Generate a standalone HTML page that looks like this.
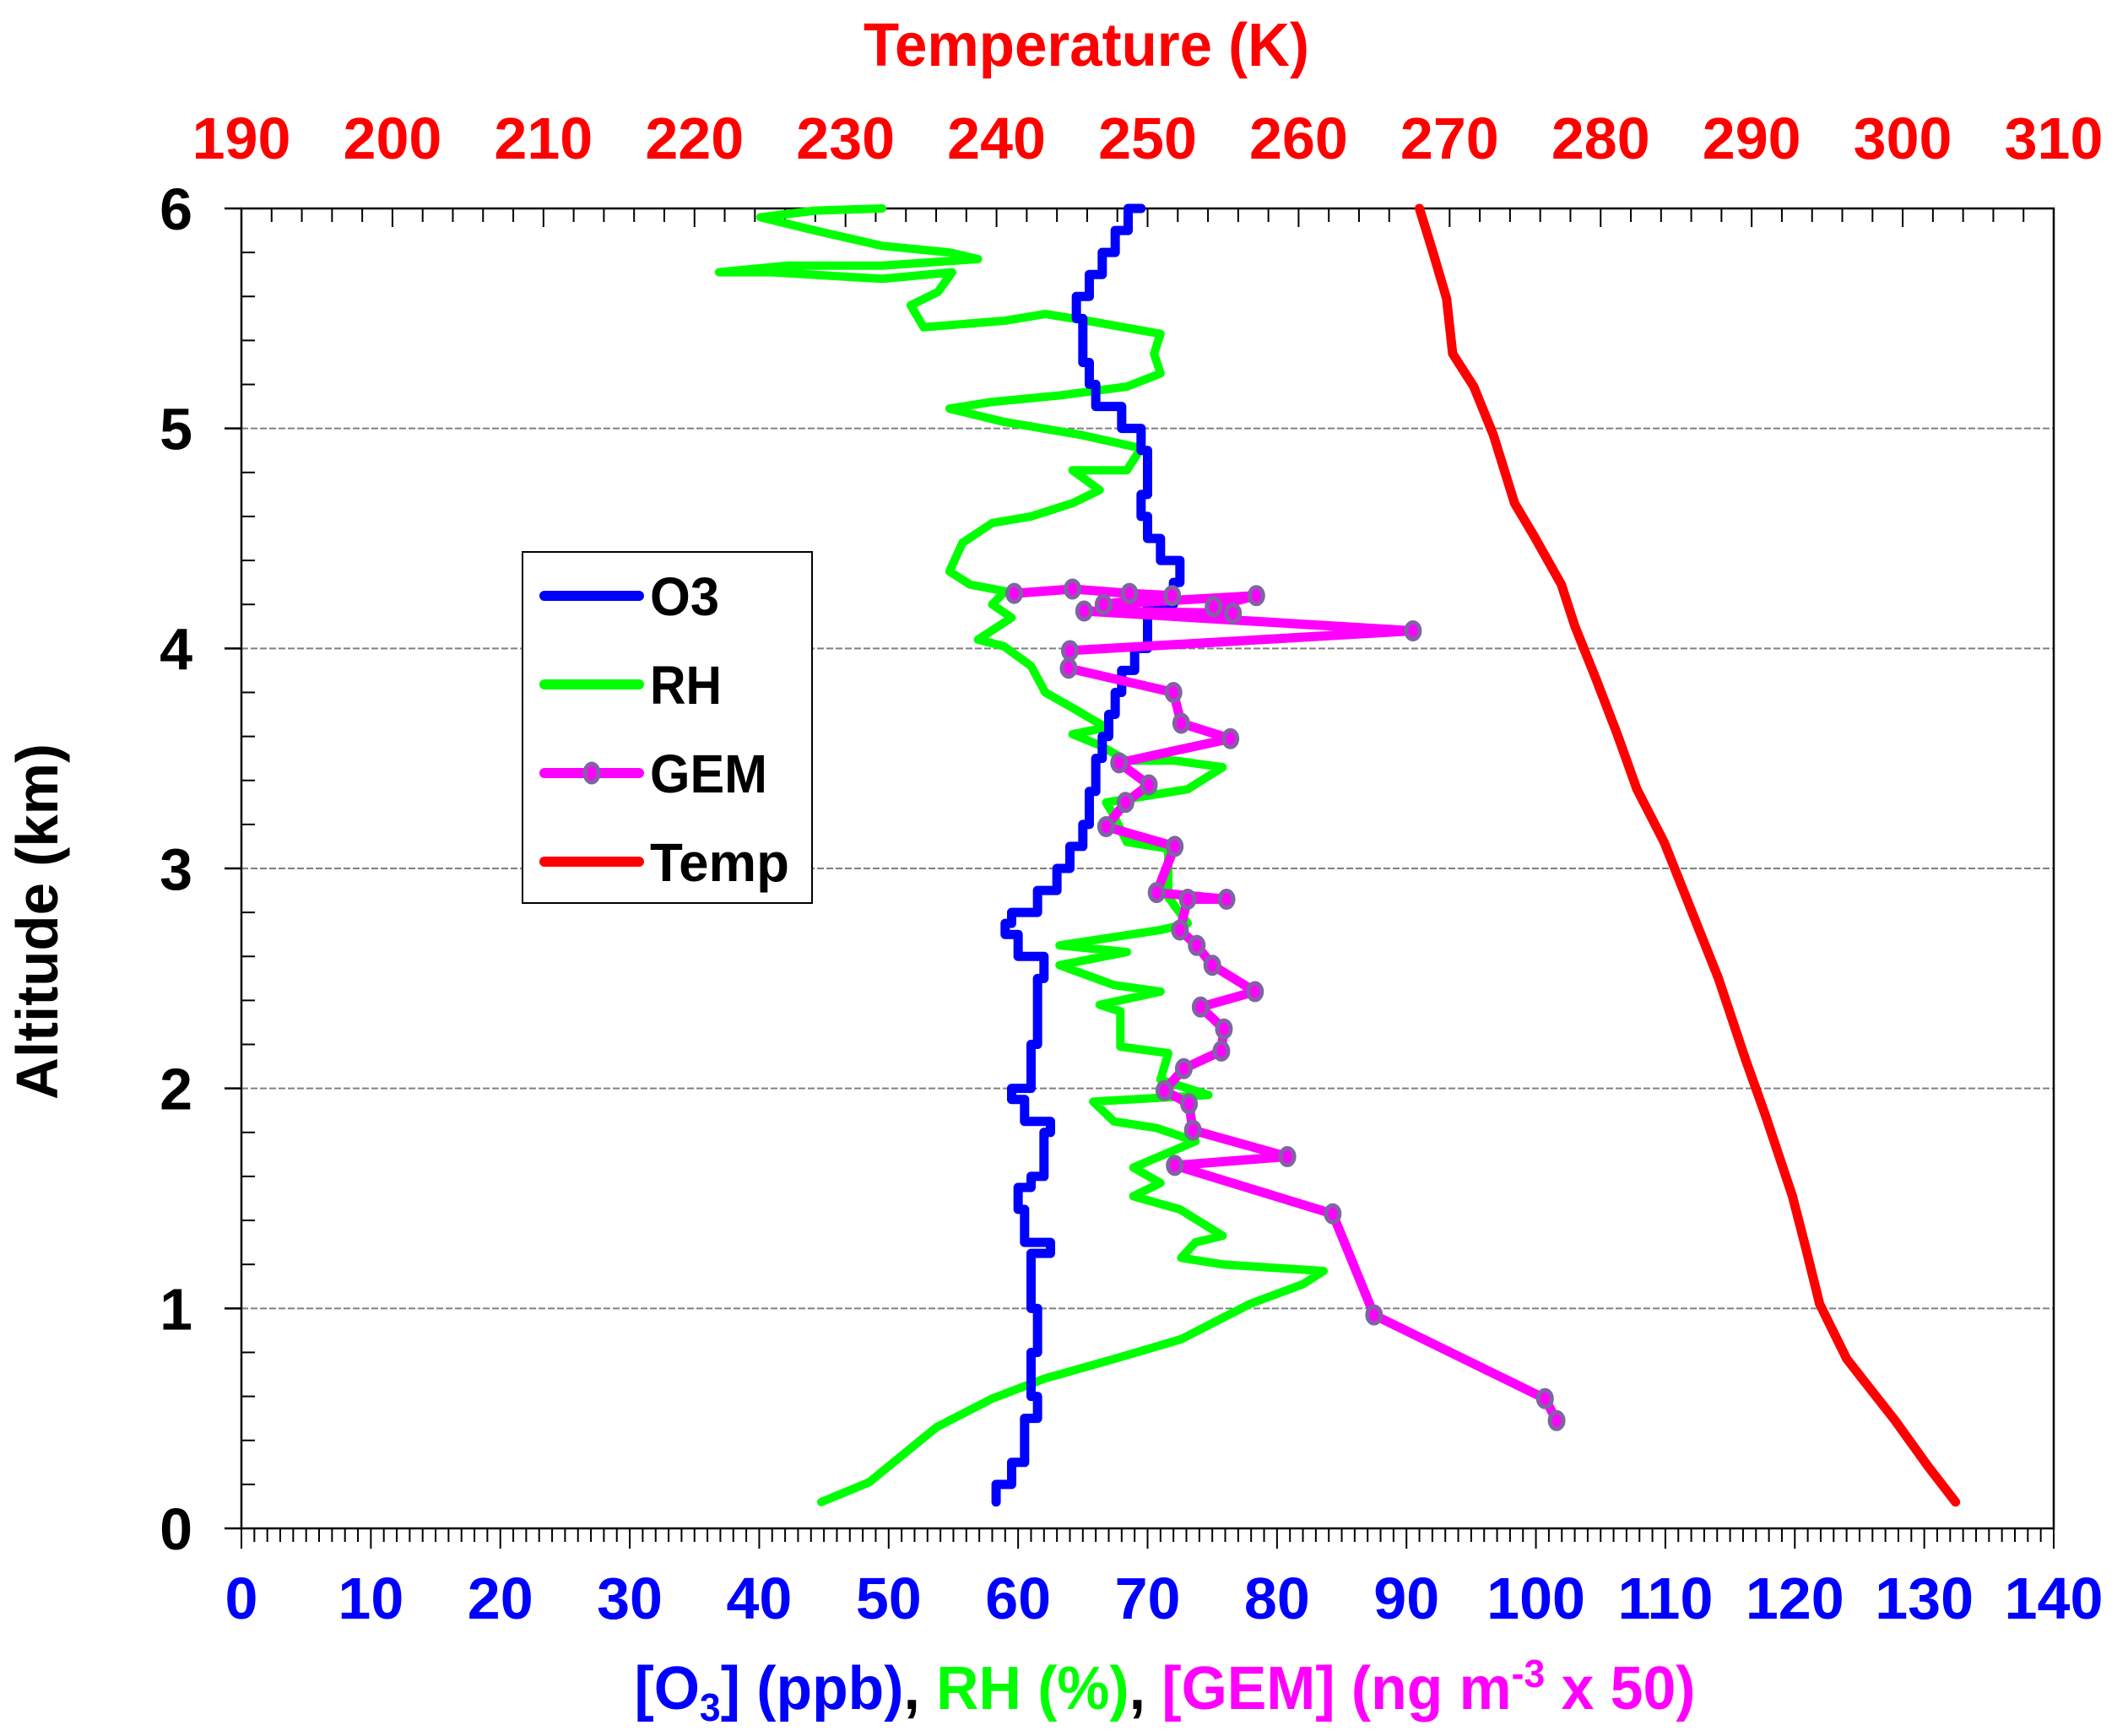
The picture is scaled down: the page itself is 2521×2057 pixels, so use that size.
<!DOCTYPE html>
<html><head><meta charset="utf-8"><style>
html,body{margin:0;padding:0;background:#fff}
svg{display:block;font-family:"Liberation Sans",Arial,sans-serif;font-weight:bold}
</style></head><body>
<svg id="chart" width="2521" height="2057" viewBox="0 0 2521 2057" xmlns="http://www.w3.org/2000/svg">
<g id="grid"></g>
<g id="axes"></g>
<g id="series"></g>
<text x="1287" y="78" text-anchor="middle" font-size="72" fill="#ff0000" textLength="528" lengthAdjust="spacingAndGlyphs">Temperature (K)</text>
<text x="1380" y="2025" text-anchor="middle" font-size="72" textLength="1257" lengthAdjust="spacingAndGlyphs"><tspan fill="#0000ff">[O</tspan><tspan fill="#0000ff" font-size="46" dy="14">3</tspan><tspan fill="#0000ff" dy="-14">] (ppb)</tspan><tspan fill="#000">, </tspan><tspan fill="#00ff00">RH (%)</tspan><tspan fill="#000">, </tspan><tspan fill="#ff00ff">[GEM] (ng m</tspan><tspan fill="#ff00ff" font-size="46" dy="-26">-3</tspan><tspan fill="#ff00ff" dy="26"> x 50)</tspan></text>
<text transform="translate(68,1092) rotate(-90)" text-anchor="middle" font-size="70" fill="#000" textLength="422" lengthAdjust="spacingAndGlyphs">Altitude (km)</text>
<g>
<rect x="619" y="654" width="343" height="416" fill="#fff" stroke="#000" stroke-width="2"/>
<g><line x1="645" y1="706" x2="757" y2="706" stroke="#0000ff" stroke-width="12" stroke-linecap="round"/><text x="770" y="729" font-size="64" textLength="82" lengthAdjust="spacingAndGlyphs">O3</text></g>
<g><line x1="645" y1="811" x2="757" y2="811" stroke="#00ff00" stroke-width="12" stroke-linecap="round"/><text x="770" y="834" font-size="64" textLength="85" lengthAdjust="spacingAndGlyphs">RH</text></g>
<g><line x1="645" y1="916" x2="757" y2="916" stroke="#ff00ff" stroke-width="12" stroke-linecap="round"/><ellipse cx="701" cy="916" rx="8" ry="11" fill="#ff00ff" stroke="#8064a2" stroke-width="5"/><text x="770" y="939" font-size="64" textLength="139" lengthAdjust="spacingAndGlyphs">GEM</text></g>
<g><line x1="645" y1="1021" x2="757" y2="1021" stroke="#ff0000" stroke-width="12" stroke-linecap="round"/><text x="770" y="1044" font-size="64" textLength="165" lengthAdjust="spacingAndGlyphs">Temp</text></g>
</g>
</svg>
<script>
const o3Alt=[0.12,0.2,0.3,0.5,0.6,0.8,1.0,1.2,1.25,1.3,1.45,1.55,1.6,1.8,1.85,1.95,2.0,2.2,2.5,2.6,2.7,2.75,2.8,2.9,3.0,3.1,3.2,3.35,3.5,3.6,3.7,3.8,3.9,4.0,4.1,4.2,4.3,4.4,4.5,4.6,4.7,4.8,4.9,5.0,5.1,5.2,5.3,5.4,5.5,5.6,5.7,5.8,5.9,6.0];
const o3Val=[58.3,59.5,60.5,61.5,61,61.5,61,61,62.5,60.5,60,61,62,62.5,60.5,59.5,61,61.5,62,60,59,59.5,61.5,63,64,65,65.5,66,66.5,67,67.5,68,69,70,70,72,72.5,71,70,69.5,70,70,69.5,68,66,65.5,65,65,64.5,65.5,66.5,67.5,68.5,69.5];
const rhAlt=[0.12,0.21,0.46,0.59,0.68,0.77,0.86,1.02,1.11,1.17,1.2,1.23,1.3,1.33,1.45,1.51,1.57,1.64,1.76,1.82,1.85,1.94,1.97,2.04,2.16,2.19,2.35,2.38,2.44,2.47,2.56,2.62,2.65,2.72,2.75,2.87,3.09,3.12,3.24,3.3,3.36,3.46,3.49,3.49,3.56,3.61,3.64,3.73,3.8,3.92,4.01,4.04,4.14,4.2,4.26,4.29,4.35,4.48,4.57,4.6,4.66,4.72,4.81,4.81,4.91,4.97,5.03,5.09,5.12,5.15,5.19,5.25,5.34,5.43,5.49,5.52,5.49,5.46,5.56,5.62,5.71,5.68,5.71,5.71,5.74,5.74,5.77,5.8,5.83,5.9,5.96,5.99,6.0];
const rhVal=[44.8,48.5,53.7,58,62,67.4,72.6,77.9,82,83.6,75.8,72.6,73.7,75.8,72.5,68.9,71,68.9,73.7,70.7,67.4,65.8,74.7,71,71.6,67.9,67.9,66.3,71,67.4,63.2,68.4,63.2,71,73.1,71.6,71.6,68.4,67.4,66.8,73.1,75.8,72.1,68.4,66.3,64.2,66.8,64.2,62.1,61,58.9,56.9,59.5,58,59,56.3,54.7,55.7,58,61,64.2,66.3,64.2,68.4,69.5,64.9,58.9,54.7,57.9,63.2,68.4,71,70.5,71,65.3,62.1,59,52.7,51.7,53.8,54.9,49.5,41,36.9,42.2,49.5,56.9,54.7,49.5,44.3,40.1,44.3,49.5];
const gemAlt=[0.49,0.59,0.97,1.43,1.65,1.69,1.81,1.93,1.99,2.09,2.17,2.27,2.37,2.44,2.56,2.65,2.72,2.86,2.86,2.89,3.1,3.19,3.3,3.38,3.48,3.59,3.66,3.8,3.91,3.99,4.08,4.17,4.16,4.19,4.24,4.2,4.24,4.25,4.27,4.25];
const gemVal=[101.6,100.7,87.5,84.3,72.1,80.8,73.5,73.2,71.3,72.8,75.7,75.9,74.1,78.3,75,73.8,72.5,73.1,76.1,70.7,72.1,66.8,68.3,70.1,67.8,76.4,72.6,72,63.9,64,90.5,65.1,76.6,75.1,78.4,66.6,71.9,68.6,64.2,59.7];
const tAlt=[0.12,0.28,0.49,0.77,1.02,1.27,1.51,1.88,2.13,2.5,2.81,3.12,3.36,3.61,3.86,4.1,4.29,4.51,4.66,4.97,5.19,5.34,5.59,5.8,6.0];
const tVal=[303.5,301.7,299.5,296.3,294.5,293.6,292.7,290.9,289.6,287.8,286,284.2,282.4,281.1,279.7,278.3,277.4,275.6,274.3,272.9,271.6,270.2,269.8,268.9,268];
const bottomTicks=[0,10,20,30,40,50,60,70,80,90,100,110,120,130,140];
const topTicks=[190,200,210,220,230,240,250,260,270,280,290,300,310];
const yTicks=[0,1,2,3,4,5,6];

const L=286,R=2433,T=247,B=1811;
const NS="http://www.w3.org/2000/svg";
const xB=v=>L+(v-0)/140*(R-L);
const xT=v=>L+(v-190)/120*(R-L);
const yA=a=>B-a/6*(B-T);
function mk(tag,attrs,parent){const e=document.createElementNS(NS,tag);for(const k in attrs)e.setAttribute(k,attrs[k]);parent.appendChild(e);return e;}
const grid=document.getElementById('grid'),axes=document.getElementById('axes'),series=document.getElementById('series');
yTicks.forEach(a=>{if(a>0&&a<6){const g=mk('line',{x1:L,x2:R,y1:yA(a),y2:yA(a),stroke:'#808080','stroke-width':2,'stroke-dasharray':'8,3'},grid);

}});
const frame=mk('rect',{x:L,y:T,width:R-L,height:B-T,fill:'none',stroke:'#000','stroke-width':2.5},axes);


for(let v=0;v<=140;v++){const major=v%10===0;mk('line',{x1:xB(v),x2:xB(v),y1:B,y2:B+(major?24:16),stroke:'#000','stroke-width':2},axes);}
for(let v=190;v<=310;v+=2){const major=v%10===0;mk('line',{x1:xT(v),x2:xT(v),y1:T,y2:T+(major?22:16),stroke:'#000','stroke-width':2},axes);}
for(let i=0;i<=30;i++){const a=i*0.2;const major=i%5===0;if(major)mk('line',{x1:L-20,x2:L,y1:yA(a),y2:yA(a),stroke:'#000','stroke-width':2.5},axes);else mk('line',{x1:L,x2:L+16,y1:yA(a),y2:yA(a),stroke:'#000','stroke-width':2},axes);}
bottomTicks.forEach(v=>{const t=mk('text',{x:xB(v),y:1918,'text-anchor':'middle','font-size':70,fill:'#0000ff'},axes);t.textContent=v;

});
topTicks.forEach(v=>{const t=mk('text',{x:xT(v),y:188,'text-anchor':'middle','font-size':70,fill:'#ff0000'},axes);t.textContent=v;

});
yTicks.forEach(a=>{const t=mk('text',{x:228,y:yA(a)+25,'text-anchor':'end','font-size':70,fill:'#000'},axes);t.textContent=a;

});
function poly(vals,alts,xf,color,name,step,w){let d='';for(let i=0;i<vals.length;i++){const x=xf(vals[i]),y=yA(alts[i]);if(i===0)d='M'+x+','+y;else if(step){d+=' V'+y+' H'+x;}else d+=' L'+x+','+y;}
const p=mk('path',{d:d,fill:'none',stroke:color,'stroke-width':w,'stroke-linejoin':'round','stroke-linecap':'round'},series);

}
poly(rhVal,rhAlt,xB,'#00ff00','rh-line',false,10);
poly(o3Val,o3Alt,xB,'#0000ff','o3-line',true,11);
poly(tVal,tAlt,xT,'#ff0000','temp-line',false,11);
poly(gemVal,gemAlt,xB,'#ff00ff','gem-line',false,11);
gemVal.forEach((v,i)=>{const c=mk('ellipse',{cx:xB(v),cy:yA(gemAlt[i]),rx:8,ry:10,fill:'#ff00ff',stroke:'#8064a2','stroke-width':5},series);

});
</script>
</body></html>
